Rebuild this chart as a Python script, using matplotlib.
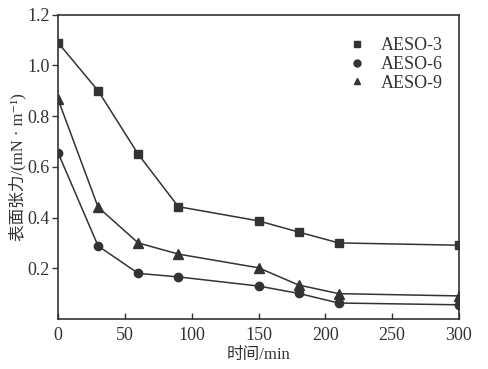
import matplotlib
matplotlib.use("Agg")
import matplotlib.pyplot as plt

time = [0, 30, 60, 90, 150, 180, 210, 300]
aeso3 = [1.09, 0.90, 0.65, 0.443, 0.387, 0.343, 0.300, 0.291]
aeso6 = [0.656, 0.288, 0.180, 0.166, 0.130, 0.101, 0.063, 0.056]
aeso9 = [0.867, 0.441, 0.300, 0.256, 0.202, 0.134, 0.100, 0.091]
labels = ["AESO-3", "AESO-6", "AESO-9"]
xticks = [0, 50, 100, 150, 200, 250, 300]
yticks = [0.2, 0.4, 0.6, 0.8, 1.0, 1.2]

serif = ["Liberation Serif", "Noto Sans CJK SC", "DejaVu Serif"]
plt.rcParams['font.family'] = serif

c = "#333333"
fig = plt.figure(figsize=(4.88, 3.69), dpi=100)
ax = fig.add_axes([58/488, 1-319/369, (459-58)/488, (319-14.7)/369])

for y, m, lab, ms in zip([aeso3, aeso6, aeso9], ["s", "o", "^"], labels, [6, 6, 6.5]):
    ax.plot(time, y, color=c, marker=m, markersize=ms, linewidth=1.1, label=lab)

ax.set_xlim(0, 300)
ax.set_ylim(0, 1.2)
ax.set_xticks(xticks)
ax.set_yticks(yticks)
ax.set_yticklabels([f"{v:.1f}" for v in yticks])
ax.tick_params(axis='x', direction='in', length=4, width=1, labelsize=13, colors=c, pad=6)
ax.tick_params(axis='y', direction='out', length=4, width=1, labelsize=13, colors=c, pad=2)
for s in ax.spines.values():
    s.set_linewidth(1.2)
    s.set_color(c)

ax.set_xlabel("时间/min", fontsize=12, color=c, labelpad=2)
ax.set_ylabel("表面张力/(mN · m⁻¹)", fontsize=12, color=c)
ax.yaxis.set_label_coords(-0.078, 0.5)

handles = [plt.Line2D([], [], color=c, marker=m, linestyle='none', markersize=5) for m in ["s", "o", "^"]]
ax.legend(handles, labels, loc='upper right', frameon=False, fontsize=13,
          handlelength=1.0, handletextpad=0.8, labelspacing=0.1,
          bbox_to_anchor=(1.0, 0.98), labelcolor=c)

fig.savefig("out.png", dpi=100)
